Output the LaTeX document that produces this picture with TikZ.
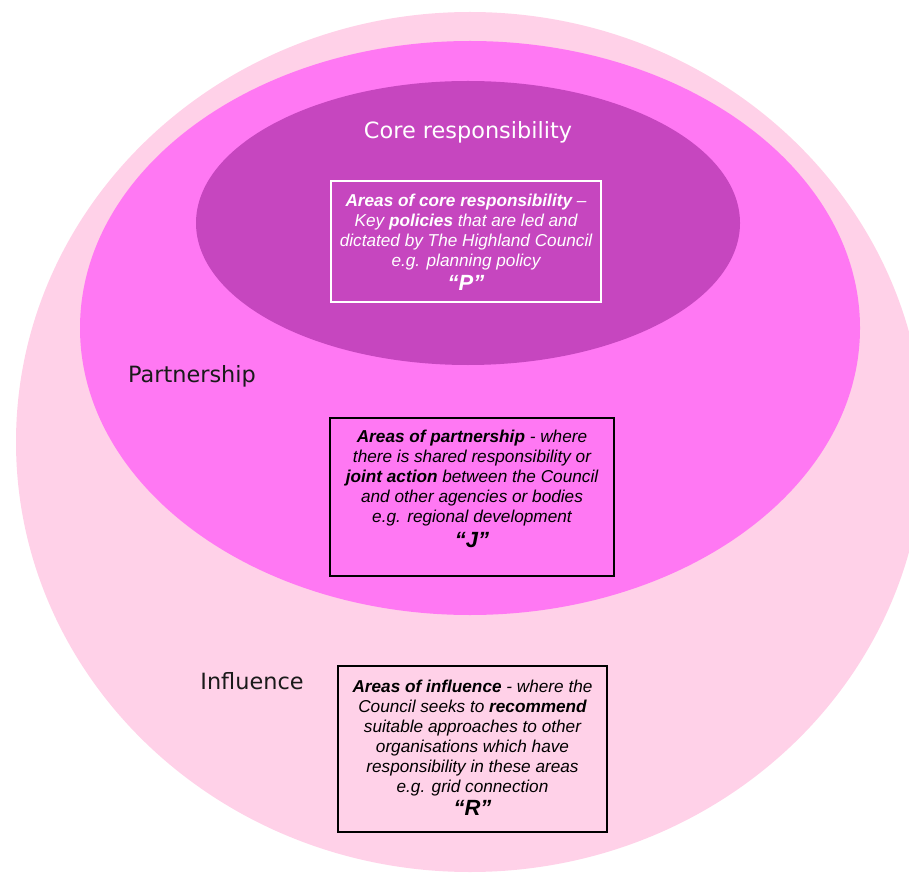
\documentclass[tikz,border=0pt]{standalone}
\usepackage{fontspec}
\setmainfont{Liberation Sans}
\newfontfamily\labelfont{DejaVu Sans}
\newcommand\bigquotefont{\bfseries\itshape\fontsize{16.5}{17}\selectfont}
\definecolor{outerpink}{HTML}{FFD1E8}
\definecolor{midpink}{HTML}{FF78F3}
\definecolor{innerpink}{HTML}{C646BF}
\definecolor{labelgray}{HTML}{1A1A1A}
\begin{document}
\begin{tikzpicture}[x=0.75pt,y=-0.75pt,
  zonelabel/.style={font=\labelfont\fontsize{16.8}{18}\selectfont, inner sep=0pt},
  infobox/.style={draw, line width=1.2pt, inner sep=0pt},
  boxtext/.style={align=center, inner sep=0pt, anchor=north, font=\itshape\fontsize{12.9}{15}\selectfont}
]
\useasboundingbox (0,0) rectangle (909,873);
\clip (0,0) rectangle (909,873);
\fill[white] (0,0) rectangle (909,873);
% zones
\fill[outerpink] (470,442) ellipse [x radius=454, y radius=430];
\fill[midpink] (470,328) ellipse [x radius=390, y radius=287];
\fill[innerpink] (468,223) ellipse [x radius=272, y radius=142];
% zone labels
\node[zonelabel, text=white] (core) at (468,132) {Core responsibility};
\node[zonelabel, text=labelgray] (part) at (192,376) {Partnership};
\node[zonelabel, text=labelgray] (infl) at (252,681) {Influence};
% box P
\node[infobox, draw=white, minimum width=270*0.75pt, minimum height=121*0.75pt] (boxP) at (466,241.5) {};
\node[boxtext, text=white] (txtP) at ([yshift=-10.2pt]boxP.north) {%
\textbf{Areas of core responsibility} –\\
Key \textbf{policies} that are led and\\
dictated by The Highland Council\\
e.g. planning policy\\[3pt]
{\bigquotefont “P”}};
% box J
\node[infobox, draw=black, minimum width=284*0.75pt, minimum height=158*0.75pt] (boxJ) at (472,497) {};
\node[boxtext, text=black] (txtJ) at ([yshift=-9.5pt]boxJ.north) {%
\textbf{Areas of partnership} - where\\
there is shared responsibility or\\
\textbf{joint action} between the Council\\
and other agencies or bodies\\
e.g. regional development\\[3.5pt]
{\bigquotefont “J”}};
% box R
\node[infobox, draw=black, minimum width=269*0.75pt, minimum height=166*0.75pt] (boxR) at (472.5,749) {};
\node[boxtext, text=black] (txtR) at ([yshift=-11pt]boxR.north) {%
\textbf{Areas of influence} - where the\\
Council seeks to \textbf{recommend}\\
suitable approaches to other\\
organisations which have\\
responsibility in these areas\\
e.g. grid connection\\[2pt]
{\bigquotefont “R”}};
\end{tikzpicture}
\end{document}
